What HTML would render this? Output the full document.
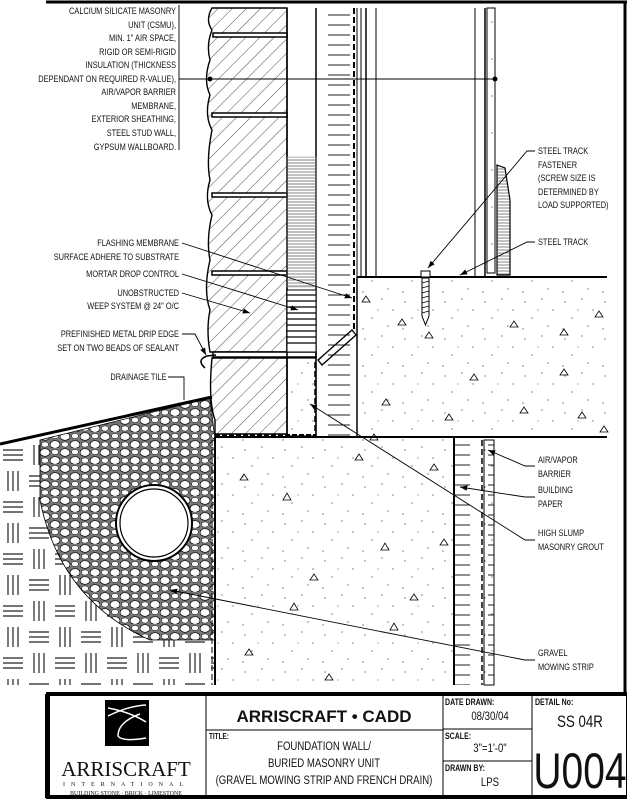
<!DOCTYPE html>
<html><head><meta charset="utf-8"><style>
html,body{margin:0;padding:0;background:#fff;}
svg{display:block;}
text{font-family:"Liberation Sans",sans-serif;font-size:9.5px;fill:#111;}
</style></head><body>
<svg width="627" height="800" viewBox="0 0 627 800" xmlns="http://www.w3.org/2000/svg">
<defs>
<pattern id="hatch" width="10" height="10" patternUnits="userSpaceOnUse" patternTransform="rotate(45)">
<line x1="0" y1="0" x2="0" y2="10" stroke="#222" stroke-width="0.8"/></pattern>
<pattern id="weave" width="52" height="52" patternUnits="userSpaceOnUse">
<g stroke="#222" stroke-width="1.2">
<line x1="8" y1="3" x2="8" y2="23"/><line x1="13" y1="3" x2="13" y2="23"/><line x1="18" y1="3" x2="18" y2="23"/>
<line x1="29" y1="8" x2="49" y2="8"/><line x1="29" y1="13" x2="49" y2="13"/><line x1="29" y1="18" x2="49" y2="18"/>
<line x1="3" y1="34" x2="23" y2="34"/><line x1="3" y1="39" x2="23" y2="39"/><line x1="3" y1="44" x2="23" y2="44"/>
<line x1="34" y1="29" x2="34" y2="49"/><line x1="39" y1="29" x2="39" y2="49"/><line x1="44" y1="29" x2="44" y2="49"/>
</g></pattern>
<pattern id="gravel" width="20" height="16" patternUnits="userSpaceOnUse">
<rect width="20" height="16" fill="#777"/>
<ellipse cx="5" cy="4.5" rx="5" ry="3.8" fill="#fff" stroke="#000" stroke-width="0.7"/>
<ellipse cx="15" cy="12.5" rx="5" ry="3.8" fill="#fff" stroke="#000" stroke-width="0.7"/>
<ellipse cx="15" cy="4" rx="3.5" ry="2.6" fill="#fff" stroke="#000" stroke-width="0.5"/>
<ellipse cx="5" cy="12.5" rx="3.5" ry="2.6" fill="#fff" stroke="#000" stroke-width="0.5"/>
</pattern>
<pattern id="conc" width="40" height="37" patternUnits="userSpaceOnUse">
<g fill="#333"><circle cx="5" cy="6" r="0.6"/><circle cx="22" cy="3" r="0.6"/><circle cx="33" cy="14" r="0.6"/><circle cx="12" cy="22" r="0.6"/><circle cx="28" cy="30" r="0.6"/><circle cx="3" cy="33" r="0.6"/><circle cx="18" cy="14" r="0.5"/></g>
</pattern>
<pattern id="ins" width="40" height="10" patternUnits="userSpaceOnUse">
<line x1="8" y1="5" x2="30" y2="5" stroke="#222" stroke-width="0.9"/></pattern>
<pattern id="hlines" width="10" height="3" patternUnits="userSpaceOnUse">
<line x1="0" y1="1" x2="10" y2="1" stroke="#333" stroke-width="0.6"/></pattern>
<marker id="ar" markerWidth="8" markerHeight="6" refX="8" refY="3" orient="auto"><path d="M0,0 L8,3 L0,6z" fill="#000"/></marker>
</defs>

<line x1="46" y1="2" x2="627" y2="2" stroke="#000" stroke-width="3"/>
<line x1="625" y1="2" x2="625" y2="692" stroke="#000" stroke-width="3"/>

<rect x="0" y="440" width="215" height="245" fill="url(#weave)"/>
<path d="M40,440 L210,398 L215,440 L215,640 L150,640 Q60,600 40,500 Z" fill="url(#gravel)" stroke="#000" stroke-width="0.8"/>
<line x1="0" y1="444" x2="212" y2="397" stroke="#000" stroke-width="3"/>
<circle cx="154" cy="523" r="38" fill="#fff" stroke="#000" stroke-width="2"/>
<circle cx="154" cy="523" r="34" fill="#fff" stroke="#000" stroke-width="1.2"/>

<path d="M212,8 Q205,20 212,30 Q206,45 210,60 Q203,80 210,95 Q204,115 212,130 Q206,160 210,180 Q204,200 212,215 Q206,240 210,260 Q203,290 210,310 Q206,330 210,352 L287,352 L287,8 Z" fill="url(#hatch)" stroke="#000" stroke-width="1.4"/>
<g stroke="#000" stroke-width="1.5" fill="#fff">
<rect x="213" y="33" width="74" height="4"/><rect x="212" y="113" width="75" height="4"/><rect x="212" y="193" width="75" height="4"/><rect x="212" y="271" width="75" height="4"/>
</g>
<rect x="213" y="352" width="103" height="5" fill="#fff" stroke="#000" stroke-width="1.5"/>
<path d="M212,358 L287,358 L287,434 L215,434 L215,420 Q208,400 212,358Z" fill="url(#hatch)" stroke="#000" stroke-width="1.4"/>
<path d="M205,368 Q196,360 207,356 L216,355" fill="none" stroke="#000" stroke-width="1.6"/>
<line x1="215" y1="435" x2="316" y2="435" stroke="#000" stroke-width="2" stroke-dasharray="5,2"/>

<line x1="287" y1="8" x2="287" y2="436" stroke="#000" stroke-width="1.5"/>
<line x1="316" y1="8" x2="316" y2="436" stroke="#000" stroke-width="1.5"/>
<rect x="287" y="157" width="29" height="130" fill="url(#hlines)" stroke="#999" stroke-width="0.5"/>
<rect x="287" y="290" width="29" height="62" fill="#fff" stroke="#000"/>
<g stroke="#000" stroke-width="1.3"><line x1="287" y1="295" x2="316" y2="295"/><line x1="287" y1="301" x2="316" y2="301"/><line x1="287" y1="307" x2="316" y2="307"/><line x1="287" y1="313" x2="316" y2="313"/><line x1="287" y1="319" x2="316" y2="319"/><line x1="287" y1="325" x2="316" y2="325"/><line x1="287" y1="331" x2="316" y2="331"/><line x1="287" y1="337" x2="316" y2="337"/><line x1="287" y1="343" x2="316" y2="343"/></g>
<rect x="287" y="358" width="29" height="78" fill="url(#conc)" stroke="#000" stroke-width="1.2"/>
<line x1="315" y1="362" x2="315" y2="432" stroke="#000" stroke-width="1.5" stroke-dasharray="6,3"/>
<rect x="316" y="8" width="40" height="428" fill="url(#ins)"/>
<line x1="354" y1="8" x2="354" y2="330" stroke="#000" stroke-width="2" stroke-dasharray="6,3"/>
<line x1="357" y1="8" x2="357" y2="277" stroke="#000" stroke-width="1"/>
<line x1="361" y1="8" x2="361" y2="277" stroke="#000" stroke-width="1"/>
<line x1="366" y1="8" x2="366" y2="277" stroke="#000" stroke-width="1.5"/>
<line x1="376" y1="8" x2="376" y2="277" stroke="#000" stroke-width="1"/>
<polygon points="318,360 352,330 356,335 322,365" fill="url(#hatch)" stroke="#000" stroke-width="1.3"/>

<line x1="475" y1="8" x2="475" y2="277" stroke="#000" stroke-width="1"/>
<line x1="485" y1="8" x2="485" y2="277" stroke="#000" stroke-width="1.5"/>
<rect x="487" y="8" width="8" height="265" fill="url(#conc)" stroke="#000" stroke-width="1"/>
<path d="M497,165 L505,168 L510,200 L510,275 L497,275 Z" fill="url(#hlines)" stroke="#000" stroke-width="1.2"/>
<line x1="357" y1="277" x2="607" y2="277" stroke="#000" stroke-width="2"/>
<rect x="357" y="278" width="250" height="159" fill="url(#conc)"/>
<line x1="357" y1="277" x2="357" y2="437" stroke="#000" stroke-width="1.5"/>
<line x1="215" y1="437" x2="607" y2="437" stroke="#000" stroke-width="2"/>
<rect x="421" y="271" width="9" height="6" fill="#fff" stroke="#000"/>
<path d="M422,278 L429,278 L429,316 L425.5,325 L422,316Z" fill="#fff" stroke="#000"/>
<g stroke="#000" stroke-width="0.7"><line x1="422" y1="283" x2="429" y2="281"/><line x1="422" y1="288" x2="429" y2="286"/><line x1="422" y1="293" x2="429" y2="291"/><line x1="422" y1="298" x2="429" y2="296"/><line x1="422" y1="303" x2="429" y2="301"/><line x1="422" y1="308" x2="429" y2="306"/><line x1="422" y1="313" x2="429" y2="311"/></g>

<rect x="215" y="438" width="239" height="247" fill="url(#conc)"/>
<line x1="215" y1="437" x2="215" y2="685" stroke="#000" stroke-width="2"/>
<line x1="212" y1="440" x2="212" y2="685" stroke="#000" stroke-width="1" stroke-dasharray="6,3"/>
<rect x="454" y="437" width="40" height="248" fill="url(#ins)"/>
<line x1="454" y1="437" x2="454" y2="685" stroke="#000" stroke-width="2"/>
<line x1="482" y1="440" x2="482" y2="685" stroke="#000" stroke-width="1.5" stroke-dasharray="6,3"/>
<rect x="484" y="440" width="10" height="245" fill="url(#conc)" stroke="#000" stroke-width="1"/>

<g fill="none" stroke="#000" stroke-width="0.8">
<path d="M362,302 l4,-6 l4,6z M398,325 l4,-6 l4,6z M425,338 l4,-6 l4,6z M510,327 l4,-6 l4,6z M560,335 l4,-6 l4,6z M382,405 l4,-6 l4,6z M445,420 l4,-6 l4,6z M520,413 l4,-6 l4,6z M578,418 l4,-6 l4,6z M470,380 l4,-6 l4,6z M560,375 l4,-6 l4,6z M600,432 l4,-6 l4,6z M595,317 l4,-6 l4,6z"/>
<path d="M283,500 l4,-7 l4,7z M381,550 l4,-7 l4,7z M370,440 l4,-6 l4,6z M240,480 l4,-6 l4,6z M290,610 l4,-7 l4,7z M390,630 l4,-7 l4,7z M310,580 l4,-6 l4,6z M430,470 l4,-6 l4,6z M245,655 l4,-6 l4,6z M325,680 l4,-6 l4,6z M440,545 l4,-6 l4,6z M355,460 l4,-6 l4,6z M410,600 l4,-6 l4,6z"/>
</g>

<g stroke="#000" stroke-width="0.9" fill="none">
<line x1="179" y1="5" x2="179" y2="150"/>
<line x1="179" y1="79" x2="495" y2="79"/>
<line x1="182" y1="243" x2="352" y2="298" marker-end="url(#ar)"/>
<line x1="182" y1="274" x2="298" y2="310" marker-end="url(#ar)"/>
<line x1="182" y1="293" x2="250" y2="313" marker-end="url(#ar)"/>
<polyline points="182,334 195,334 206,355" marker-end="url(#ar)"/>
<polyline points="168,377 184,377 184,400"/>
<polyline points="535,151 527,151 428,268" marker-end="url(#ar)"/>
<polyline points="535,242 527,242 460,275" marker-end="url(#ar)"/>
<polyline points="535,466 525,466 488,450" marker-end="url(#ar)"/>
<polyline points="535,497 525,497 460,487" marker-end="url(#ar)"/>
<polyline points="535,540 525,540 310,404" marker-end="url(#ar)"/>
<polyline points="535,660 525,660 170,590" marker-end="url(#ar)"/>
</g>
<circle cx="210" cy="79" r="2.5"/><circle cx="495" cy="79" r="2.5"/>

<g text-anchor="end" transform="translate(176,0) scale(0.78,1)">
<text x="0" y="14">CALCIUM SILICATE MASONRY</text>
<text x="0" y="28">UNIT (CSMU),</text>
<text x="0" y="41">MIN. 1" AIR SPACE,</text>
<text x="0" y="55">RIGID OR SEMI-RIGID</text>
<text x="0" y="68">INSULATION (THICKNESS</text>
<text x="0" y="82">DEPENDANT ON REQUIRED R-VALUE),</text>
<text x="0" y="95">AIR/VAPOR BARRIER</text>
<text x="0" y="109">MEMBRANE,</text>
<text x="0" y="122">EXTERIOR SHEATHING,</text>
<text x="0" y="136">STEEL STUD WALL,</text>
<text x="0" y="150">GYPSUM WALLBOARD.</text>
</g>
<g text-anchor="end" transform="translate(179,0) scale(0.78,1)">
<text x="0" y="246">FLASHING MEMBRANE</text>
<text x="0" y="260">SURFACE ADHERE TO SUBSTRATE</text>
<text x="0" y="277">MORTAR DROP CONTROL</text>
<text x="0" y="296">UNOBSTRUCTED</text>
<text x="0" y="309">WEEP SYSTEM @ 24" O/C</text>
<text x="0" y="337">PREFINISHED METAL DRIP EDGE</text>
<text x="0" y="351">SET ON TWO BEADS OF SEALANT</text>
<text x="-16" y="380">DRAINAGE TILE</text>
</g>
<g transform="translate(538,0) scale(0.78,1)">
<text x="0" y="154">STEEL TRACK</text>
<text x="0" y="168">FASTENER</text>
<text x="0" y="181">(SCREW SIZE IS</text>
<text x="0" y="195">DETERMINED BY</text>
<text x="0" y="208">LOAD SUPPORTED)</text>
<text x="0" y="245">STEEL TRACK</text>
<text x="0" y="463">AIR/VAPOR</text>
<text x="0" y="477">BARRIER</text>
<text x="0" y="493">BUILDING</text>
<text x="0" y="507">PAPER</text>
<text x="0" y="536">HIGH SLUMP</text>
<text x="0" y="550">MASONRY GROUT</text>
<text x="0" y="656">GRAVEL</text>
<text x="0" y="670">MOWING STRIP</text>
</g>

<rect x="46" y="695" width="581" height="102" fill="#fff" stroke="#000" stroke-width="2"/>
<line x1="46" y1="694" x2="627" y2="694" stroke="#000" stroke-width="4"/>
<line x1="46" y1="797" x2="627" y2="797" stroke="#000" stroke-width="4"/>
<line x1="48" y1="695" x2="48" y2="797" stroke="#000" stroke-width="4"/>
<g stroke="#000" stroke-width="1">
<line x1="206" y1="695" x2="206" y2="797"/><line x1="443" y1="695" x2="443" y2="797"/><line x1="532" y1="695" x2="532" y2="797"/>
<line x1="206" y1="730" x2="443" y2="730"/><line x1="443" y1="729" x2="532" y2="729"/><line x1="443" y1="761" x2="532" y2="761"/>
</g>
<rect x="105" y="700" width="44" height="46" fill="#000"/>
<path d="M108,708 Q130,712 146,722 M108,716 Q128,706 146,705 M140,714 Q118,722 118,736 Q122,742 146,738" stroke="#fff" stroke-width="1.5" fill="none"/>
<text x="126" y="776" text-anchor="middle" style="font-family:'Liberation Serif',serif;font-size:21px">ARRISCRAFT</text>
<text x="126" y="786" text-anchor="middle" style="font-family:'Liberation Serif',serif;font-size:6px;letter-spacing:6px">INTERNATIONAL</text>
<text x="126" y="795" text-anchor="middle" style="font-family:'Liberation Serif',serif;font-size:6px">BUILDING STONE · BRICK · LIMESTONE</text>
<text x="324" y="722" text-anchor="middle" style="font-family:'Liberation Sans',sans-serif;font-size:17px;font-weight:bold">ARRISCRAFT • CADD</text>
<text x="209" y="739" style="font-size:8px;font-weight:bold" transform="translate(209,0) scale(0.8,1) translate(-209,0)">TITLE:</text>
<g text-anchor="middle" transform="translate(324,0) scale(0.8,1)" style="font-size:12px">
<text x="0" y="750" style="font-size:12px">FOUNDATION WALL/</text>
<text x="0" y="767" style="font-size:12px">BURIED MASONRY UNIT</text>
<text x="0" y="784" style="font-size:12px">(GRAVEL MOWING STRIP AND FRENCH DRAIN)</text>
</g>
<g transform="translate(445,0) scale(0.78,1)">
<text x="0" y="705" style="font-size:9px;font-weight:bold">DATE DRAWN:</text>
<text x="0" y="739" style="font-size:9px;font-weight:bold">SCALE:</text>
<text x="0" y="771" style="font-size:9px;font-weight:bold">DRAWN BY:</text>
</g>
<g text-anchor="middle" transform="translate(490,0) scale(0.8,1)">
<text x="0" y="720" style="font-size:12px">08/30/04</text>
<text x="0" y="752" style="font-size:12px">3"=1'-0"</text>
<text x="0" y="786" style="font-size:12px">LPS</text>
</g>
<text x="535" y="705" style="font-size:9px;font-weight:bold" transform="translate(535,0) scale(0.78,1) translate(-535,0)">DETAIL No:</text>
<g text-anchor="middle" transform="translate(580,0) scale(0.78,1)">
<text x="0" y="727" style="font-size:17px">SS 04R</text>
<text x="0" y="788" style="font-size:50px">U004</text>
</g>
</svg>
</body></html>
